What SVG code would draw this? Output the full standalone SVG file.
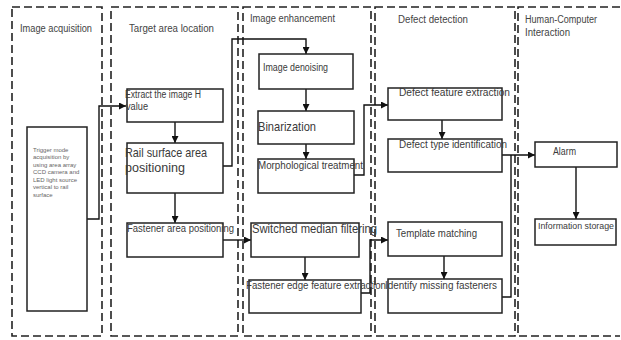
<svg xmlns="http://www.w3.org/2000/svg" width="621" height="340" viewBox="0 0 621 340">
<defs>
<marker id="ah" viewBox="0 0 10 10" refX="10" refY="5" markerWidth="7" markerHeight="7" markerUnits="userSpaceOnUse" orient="auto">
<path d="M0,0 L10,5 L0,10 z" fill="#111"/>
</marker>
<style>
.col{fill:none;stroke:#222;stroke-width:1.6;stroke-dasharray:8 4}
.box{fill:#fff;stroke:#222;stroke-width:1.5}
.t{font-family:"Liberation Sans",Arial,sans-serif;font-size:10px;fill:#3a3a3a}
.tl{font-family:"Liberation Sans",Arial,sans-serif;font-size:13px;fill:#3a3a3a}
.ts{font-family:"Liberation Sans",Arial,sans-serif;font-size:6px;fill:#666}
.h{font-family:"Liberation Sans",Arial,sans-serif;font-size:10px;fill:#444}
.c{fill:none;stroke:#111;stroke-width:1.4}
</style>
</defs>
<rect width="621" height="340" fill="#fff"/>
<g id="columns">
<rect class="col" x="12" y="7" width="90" height="329"/>
<rect class="col" x="111" y="7" width="127" height="329"/>
<rect class="col" x="243" y="7" width="128" height="329"/>
<rect class="col" x="375" y="7" width="140" height="329"/>
<path class="col" d="M620,7 H518 V336 H620"/>
<text class="h" x="20" y="32" textLength="72" lengthAdjust="spacingAndGlyphs">Image acquisition</text>
<text class="h" x="129" y="32" textLength="85" lengthAdjust="spacingAndGlyphs">Target area location</text>
<text class="h" x="250" y="22" textLength="85" lengthAdjust="spacingAndGlyphs">Image enhancement</text>
<text class="h" x="398" y="23" textLength="70" lengthAdjust="spacingAndGlyphs">Defect detection</text>
<text class="h" x="525" y="23" textLength="72" lengthAdjust="spacingAndGlyphs">Human-Computer</text>
<text class="h" x="525" y="36" textLength="45" lengthAdjust="spacingAndGlyphs">Interaction</text>
</g>
<g id="connectors">
<polyline class="c" points="87,219 99,219 99,106 126,106" marker-end="url(#ah)"/>
<line class="c" x1="175" y1="122" x2="175" y2="143" marker-end="url(#ah)"/>
<line class="c" x1="175" y1="193" x2="175" y2="223" marker-end="url(#ah)"/>
<polyline class="c" points="223,166 232,166 232,39 306,39 306,54" marker-end="url(#ah)"/>
<line class="c" x1="223" y1="240" x2="251" y2="240" marker-end="url(#ah)"/>
<line class="c" x1="306" y1="89" x2="306" y2="111" marker-end="url(#ah)"/>
<line class="c" x1="306" y1="144" x2="306" y2="159" marker-end="url(#ah)"/>
<polyline class="c" points="354,175 364,175 364,105 388,105" marker-end="url(#ah)"/>
<line class="c" x1="305" y1="257" x2="305" y2="280" marker-end="url(#ah)"/>
<polyline class="c" points="361,293 370,293 370,240 388,240" marker-end="url(#ah)"/>
<line class="c" x1="442" y1="120" x2="442" y2="139" marker-end="url(#ah)"/>
<line class="c" x1="444" y1="256" x2="444" y2="279" marker-end="url(#ah)"/>
<line class="c" x1="502" y1="155" x2="535" y2="155" marker-end="url(#ah)"/>
<polyline class="c" points="502,297 511,297 511,155"/>
<line class="c" x1="576" y1="167" x2="576" y2="219" marker-end="url(#ah)"/>
</g>
<g id="n-trigger">
<rect class="box" x="27" y="127" width="60" height="184"/>
<text class="ts" x="33" y="152">Trigger mode</text>
<text class="ts" x="33" y="159">acquisition by</text>
<text class="ts" x="33" y="166.5">using area array</text>
<text class="ts" x="33" y="174">CCD camera and</text>
<text class="ts" x="33" y="181.5">LED light source</text>
<text class="ts" x="33" y="189">vertical to rail</text>
<text class="ts" x="33" y="196.5">surface</text>
</g>
<g id="n-extract">
<rect class="box" x="127" y="89" width="96" height="33"/>
<text class="t" x="125" y="98" textLength="76" lengthAdjust="spacingAndGlyphs">Extract the image H</text>
<text class="t" x="126" y="110" textLength="22" lengthAdjust="spacingAndGlyphs">value</text>
</g>
<g id="n-rail">
<rect class="box" x="127" y="143" width="96" height="50"/>
<text class="tl" x="125" y="157" textLength="82" lengthAdjust="spacingAndGlyphs">Rail surface area</text>
<text class="tl" x="125" y="172" textLength="60" lengthAdjust="spacingAndGlyphs">positioning</text>
</g>
<g id="n-fastener-area">
<rect class="box" x="127" y="223" width="96" height="34"/>
<text class="t" x="127" y="232" textLength="107" lengthAdjust="spacingAndGlyphs">Fastener area positioning</text>
</g>
<g id="n-denoise">
<rect class="box" x="259" y="54" width="94" height="35"/>
<text class="t" x="263" y="71" textLength="65" lengthAdjust="spacingAndGlyphs">Image denoising</text>
</g>
<g id="n-binar">
<rect class="box" x="258" y="111" width="96" height="33"/>
<text class="tl" x="258" y="131" textLength="58" lengthAdjust="spacingAndGlyphs">Binarization</text>
</g>
<g id="n-morph">
<rect class="box" x="258" y="159" width="96" height="34"/>
<text class="t" x="258" y="169" textLength="105" lengthAdjust="spacingAndGlyphs">Morphological treatment</text>
</g>
<g id="n-switched">
<rect class="box" x="251" y="223" width="108" height="34"/>
<text class="tl" x="252" y="233" textLength="125" lengthAdjust="spacingAndGlyphs">Switched median filtering</text>
</g>
<g id="n-fastener-edge">
<rect class="box" x="249" y="280" width="112" height="33"/>
<text class="t" x="246" y="289" textLength="140" lengthAdjust="spacingAndGlyphs">Fastener edge feature extraction</text>
</g>
<g id="n-defect-feature">
<rect class="box" x="388" y="88" width="114" height="32"/>
<text class="t" x="399" y="96" textLength="111" lengthAdjust="spacingAndGlyphs">Defect feature extraction</text>
</g>
<g id="n-defect-type">
<rect class="box" x="388" y="139" width="114" height="33"/>
<text class="t" x="399" y="148" textLength="108" lengthAdjust="spacingAndGlyphs">Defect type identification</text>
</g>
<g id="n-template">
<rect class="box" x="388" y="222" width="114" height="34"/>
<text class="t" x="396" y="237" textLength="81" lengthAdjust="spacingAndGlyphs">Template matching</text>
</g>
<g id="n-identify">
<rect class="box" x="388" y="279" width="114" height="34"/>
<text class="t" x="385" y="289" textLength="112" lengthAdjust="spacingAndGlyphs">Identify missing fasteners</text>
</g>
<g id="n-alarm">
<rect class="box" x="535" y="142" width="82" height="25"/>
<text class="t" x="553" y="155" textLength="23" lengthAdjust="spacingAndGlyphs">Alarm</text>
</g>
<g id="n-storage">
<rect class="box" x="535" y="219" width="81" height="26"/>
<text class="t" x="538" y="229" style="font-size:8.6px" textLength="76" lengthAdjust="spacingAndGlyphs">Information storage</text>
</g>
</svg>
